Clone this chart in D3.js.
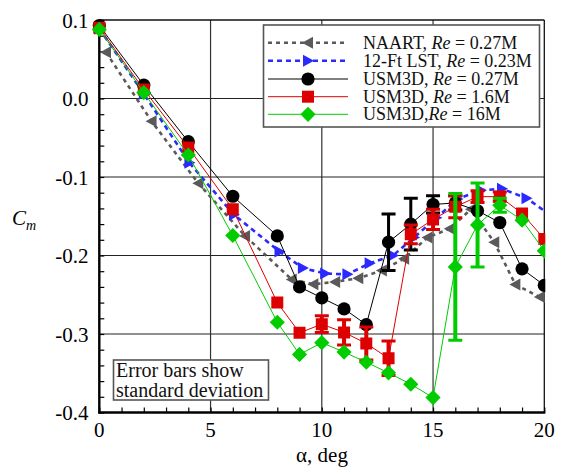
<!DOCTYPE html>
<html>
<head>
<meta charset="utf-8">
<script src="https://cdn.jsdelivr.net/npm/d3@7"></script>
<style>
  html, body { margin: 0; padding: 0; background: #fff; }
  svg { display: block; }
  svg text { font-family: "Liberation Serif", "Times New Roman", Times, "DejaVu Serif", serif; }
</style>
</head>
<body>
<svg id="chart" width="565" height="468"></svg>
<script>
// Pitching-moment coefficient vs angle of attack

// USM3D runs share one alpha sweep
const alphaUSM = [0, 2, 4, 6, 8, 9, 10, 11, 12, 13, 14, 15, 16, 17, 18, 19, 20];
const cmUSM027 = [0.093, 0.017, -0.055, -0.1245, -0.175, -0.24, -0.254, -0.268, -0.288, -0.183, -0.16, -0.135, -0.133, -0.143, -0.158, -0.217, -0.238];
const sdUSM027 = [0, 0, 0, 0, 0, 0, 0, 0, 0, 0.036, 0.033, 0.011, 0.009, 0, 0, 0, 0];
const cmUSM16 = [0.09, 0.0115, -0.0624, -0.141, -0.26, -0.2985, -0.2875, -0.298, -0.312, -0.331, -0.173, -0.154, -0.138, -0.125, -0.125, -0.1465, -0.179];
const sdUSM16 = [0, 0, 0, 0, 0, 0, 0.0106, 0.016, 0.021, 0.022, 0.012, 0.013, 0.014, 0.0075, 0.006, 0, 0];
const cmUSM160 = [0.088, 0.0076, -0.072, -0.1745, -0.285, -0.326, -0.311, -0.323, -0.336, -0.3495, -0.364, -0.381, -0.2145, -0.161, -0.136, -0.155, -0.194];
const sdUSM160 = [0, 0, 0, 0, 0, 0, 0, 0, 0, 0, 0, 0, 0.0935, 0.0535, 0.009, 0, 0];

// Wind-tunnel data
const alphaNAART = [0.3, 2.35, 4.45, 6.55, 8.65, 9.62, 10.6, 11.64, 12.7, 13.7, 14.75, 15.75, 16.7, 17.75, 18.7, 19.8];
const cmNAART = [0.059, -0.029, -0.108, -0.175, -0.2306, -0.2366, -0.2336, -0.229, -0.219, -0.204, -0.177, -0.166, -0.141, -0.183, -0.237, -0.253];
const alphaLST = [0, 2, 4.05, 6.05, 8.1, 9.15, 10.15, 11.15, 12.15, 13.2, 14.15, 15.15, 16.1, 17.15, 18.1, 19.2, 20.2];
const cmLST = [0.089, 0.006, -0.082, -0.148, -0.195, -0.216, -0.223, -0.224, -0.21, -0.2, -0.177, -0.152, -0.128, -0.117, -0.115, -0.127, -0.147];

// Axis ticks
const xMajor = [0, 5, 10, 15, 20];
const yMajor = [0.1, 0.0, -0.1, -0.2, -0.3, -0.4];
const yTickText = ["0.1", "0.0", "-0.1", "-0.2", "-0.3", "-0.4"];

const legendLabels = [
  ["NAART, ", "Re", " = 0.27M"],
  ["12-Ft LST, ", "Re", " = 0.23M"],
  ["USM3D, ", "Re", " = 0.27M"],
  ["USM3D, ", "Re", " = 1.6M"],
  ["USM3D,", "Re", " = 16M"]
];
const noteLines = ["Error bars show", "standard deviation"];

const SERIF = "'Liberation Serif', 'Times New Roman', Times, 'DejaVu Serif', serif";

const svg = d3.select("#chart");
const x = d3.scaleLinear().domain([0, 20]).range([99.3, 544.3]);
const y = d3.scaleLinear().domain([-0.4, 0.1]).range([412.5, 20]);

// Grid lines
const g = svg.append("g");
g.selectAll(".vg").data(xMajor.slice(1, 4)).join("line")
  .attr("x1", d => x(d)).attr("x2", d => x(d)).attr("y1", y(0.1)).attr("y2", y(-0.4))
  .attr("stroke", "#333").attr("stroke-width", 1.2);
g.selectAll(".hg").data(yMajor.slice(1, 5)).join("line")
  .attr("x1", x(0)).attr("x2", x(20)).attr("y1", d => y(d)).attr("y2", d => y(d))
  .attr("stroke", "#222").attr("stroke-width", 1.2);

// Frame
svg.append("line").attr("x1", x(0)).attr("x2", x(20)).attr("y1", y(0.1)).attr("y2", y(0.1)).attr("stroke", "#111").attr("stroke-width", 1.3);
svg.append("line").attr("x1", x(20)).attr("x2", x(20)).attr("y1", y(0.1)).attr("y2", y(-0.4)).attr("stroke", "#111").attr("stroke-width", 1.3);

// Axes with inward ticks
const xAxis = d3.axisTop(x).tickValues(d3.range(0, 21, 1)).tickSize(5).tickFormat("");
const xAx = svg.append("g").attr("transform", `translate(0,${y(-0.4)})`).call(xAxis);
xAx.select(".domain").remove();
xAx.selectAll("line").attr("stroke", "#000").attr("stroke-width", 1.2);
svg.append("line").attr("x1", x(0) - 1).attr("x2", x(20) + 1).attr("y1", y(-0.4)).attr("y2", y(-0.4)).attr("stroke", "#000").attr("stroke-width", 2.4);

const yAxis = d3.axisRight(y).tickValues(d3.range(-0.4, 0.1001, 0.02)).tickSize(5).tickFormat("");
const yAx = svg.append("g").attr("transform", `translate(${x(0)},0)`).call(yAxis);
yAx.select(".domain").remove();
yAx.selectAll("line").attr("stroke", "#000").attr("stroke-width", 1.2);
svg.append("line").attr("x1", x(0)).attr("x2", x(0)).attr("y1", y(0.1)).attr("y2", y(-0.4) + 1).attr("stroke", "#000").attr("stroke-width", 2.4);

// Tick labels
svg.selectAll(".xl").data(xMajor).join("text")
  .attr("font-family", SERIF)
  .attr("x", d => x(d)).attr("y", 437).attr("text-anchor", "middle")
  .attr("font-size", 21).text(d => d);
svg.selectAll(".yl").data(yMajor).join("text")
  .attr("font-family", SERIF)
  .attr("x", 88.5).attr("y", d => y(d) + 7.5).attr("text-anchor", "end")
  .attr("font-size", 21).text((d, i) => yTickText[i]);

// Axis titles
svg.append("text").attr("font-family", SERIF).attr("x", 322).attr("y", 462).attr("text-anchor", "middle").attr("font-size", 21)
  .text("\u03b1, deg");
const cm = svg.append("text").attr("font-family", SERIF).attr("x", 12).attr("y", 225).attr("font-size", 21).attr("font-style", "italic");
cm.append("tspan").text("C");
cm.append("tspan").attr("font-size", 14).attr("dy", 5).text("m");

// Clip region for plotted series
svg.append("clipPath").attr("id", "plotclip").append("rect")
  .attr("x", x(0) - 10).attr("y", y(0.1) - 10).attr("width", x(20) - x(0) + 11).attr("height", y(-0.4) - y(0.1) + 20);
const plot = svg.append("g").attr("clip-path", "url(#plotclip)");

// Marker shapes
const markers = {
  triLeft: () => "M-6,0L5,-6L5,6Z",
  triRight: () => "M6,0L-5,-6L-5,6Z",
  circle: () => d3.symbol(d3.symbolCircle, Math.PI * 6.6 * 6.6)(),
  square: () => "M-6,-6H6V6H-6Z",
  diamond: () => "M0,-7.6L7.6,0L0,7.6L-7.6,0Z"
};

const series = [
  { xs: alphaNAART, ys: cmNAART, sd: null, color: "#5a5a5a", width: 2.6, dash: "4,4", marker: "triLeft" },
  { xs: alphaLST, ys: cmLST, sd: null, color: "#2a2aff", width: 2.6, dash: "5,4", marker: "triRight" },
  { xs: alphaUSM, ys: cmUSM027, sd: sdUSM027, color: "#000000", width: 1, dash: null, marker: "circle", barW: 3 },
  { xs: alphaUSM, ys: cmUSM16, sd: sdUSM16, color: "#dd0000", width: 1, dash: null, marker: "square", barW: 4 },
  { xs: alphaUSM, ys: cmUSM160, sd: sdUSM160, color: "#00cc00", width: 1, dash: null, marker: "diamond", barW: 4 }
];

const line = d3.line().x(d => x(d[0])).y(d => y(d[1]));

series.forEach(s => {
  const pts = s.xs.map((a, i) => [a, s.ys[i], s.sd ? s.sd[i] : 0]);
  const grp = plot.append("g");
  grp.append("path").datum(pts).attr("d", line)
    .attr("fill", "none").attr("stroke", s.color).attr("stroke-width", s.width)
    .attr("stroke-dasharray", s.dash);
  // error bars (one standard deviation)
  const eb = pts.filter(p => p[2] > 0);
  grp.selectAll(".bar").data(eb).join("line")
    .attr("x1", d => x(d[0])).attr("x2", d => x(d[0]))
    .attr("y1", d => y(d[1] + d[2])).attr("y2", d => y(d[1] - d[2]))
    .attr("stroke", s.color).attr("stroke-width", s.barW);
  [1, -1].forEach(sg => {
    grp.selectAll(".cap" + sg).data(eb).join("line")
      .attr("x1", d => x(d[0]) - 7).attr("x2", d => x(d[0]) + 7)
      .attr("y1", d => y(d[1] + sg * d[2])).attr("y2", d => y(d[1] + sg * d[2]))
      .attr("stroke", s.color).attr("stroke-width", 3);
  });
  grp.selectAll(".mk").data(pts.filter(p => p[0] <= 20)).join("path")
    .attr("transform", d => `translate(${x(d[0])},${y(d[1])})`)
    .attr("d", markers[s.marker]()).attr("fill", s.color);
});

// Legend
const leg = svg.append("g");
leg.append("rect").attr("x", 263.5).attr("y", 25).attr("width", 276).attr("height", 102)
  .attr("fill", "#fff").attr("stroke", "#555").attr("stroke-width", 1.6);
const rowY = [42.7, 60.7, 79, 96.7, 114.3];
series.forEach((s, i) => {
  const ry = rowY[i];
  leg.append("line").attr("x1", 268).attr("x2", 348).attr("y1", ry).attr("y2", ry)
    .attr("stroke", s.color).attr("stroke-width", s.width).attr("stroke-dasharray", s.dash);
  leg.append("path").attr("transform", `translate(308,${ry})`).attr("d", markers[s.marker]()).attr("fill", s.color);
  const t = leg.append("text").attr("font-family", SERIF).attr("x", 363).attr("y", ry + 6).attr("font-size", 18).attr("fill", "#111");
  t.append("tspan").text(legendLabels[i][0]);
  t.append("tspan").attr("font-style", "italic").text(legendLabels[i][1]);
  t.append("tspan").text(legendLabels[i][2]);
});

// Note box
const note = svg.append("g");
note.append("rect").attr("x", 113.5).attr("y", 360).attr("width", 155).attr("height", 40)
  .attr("fill", "#fff").attr("stroke", "#555").attr("stroke-width", 1.6);
note.selectAll("text").data(noteLines).join("text")
  .attr("font-family", SERIF)
  .attr("x", 116).attr("y", (d, i) => 377 + i * 19.5).attr("font-size", 20).attr("fill", "#111").text(d => d);
</script>
</body>
</html>
